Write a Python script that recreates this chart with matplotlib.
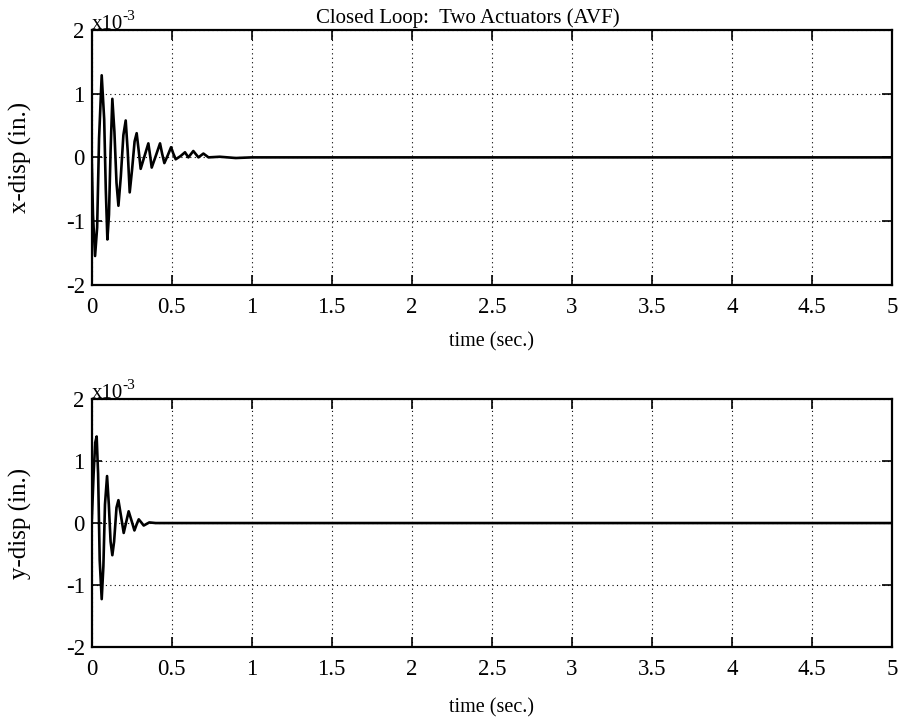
import numpy as np
import matplotlib.pyplot as plt
from matplotlib.ticker import FuncFormatter

# displacement response (inches x 1e-3), read at extrema and crossings
x_time = [0.0, 0.008, 0.021, 0.034, 0.046, 0.0625, 0.078, 0.088, 0.098, 0.108, 0.118,
          0.129, 0.142, 0.155, 0.167, 0.182, 0.198, 0.2125, 0.225, 0.2375, 0.252,
          0.268, 0.281, 0.294, 0.306, 0.330, 0.354, 0.365, 0.375, 0.400, 0.427,
          0.440, 0.454, 0.475, 0.496, 0.510, 0.525, 0.555, 0.583, 0.604, 0.635,
          0.667, 0.698, 0.730, 0.800, 0.900, 1.0, 5.0]
x_disp = [0.0, -0.9, -1.55, -1.1, 0.3, 1.29, 0.6, -0.5, -1.29, -0.9, 0.1,
          0.92, 0.4, -0.4, -0.76, -0.3, 0.35, 0.58, 0.1, -0.55, -0.2,
          0.25, 0.38, 0.1, -0.18, 0.02, 0.22, 0.03, -0.16, 0.02, 0.22,
          0.06, -0.09, 0.03, 0.16, 0.06, -0.03, 0.02, 0.08, 0.0, 0.10,
          0.0, 0.06, 0.0, 0.01, -0.01, 0.0, 0.0]

y_time = [0.0, 0.012, 0.022, 0.031, 0.040, 0.050, 0.0625, 0.073, 0.083, 0.096,
          0.107, 0.118, 0.129, 0.140, 0.155, 0.167, 0.184, 0.200, 0.216, 0.231,
          0.250, 0.267, 0.281, 0.294, 0.310, 0.325, 0.360, 0.400, 5.0]
y_disp = [0.0, 0.8, 1.3, 1.40, 0.8, -0.6, -1.23, -0.7, 0.3, 0.76,
          0.3, -0.3, -0.52, -0.3, 0.25, 0.37, 0.1, -0.16, 0.02, 0.19,
          0.03, -0.12, -0.02, 0.06, 0.01, -0.04, 0.01, 0.0, 0.0]

x_time = np.array(x_time)
x_disp = np.array(x_disp) * 1e-3
y_time = np.array(y_time)
y_disp = np.array(y_disp) * 1e-3

plt.rcParams['font.family'] = ['Liberation Serif', 'DejaVu Serif']
plt.rcParams['axes.unicode_minus'] = False

fig = plt.figure(figsize=(8.99, 7.17), dpi=100)
ax1 = fig.add_axes([0.102, 0.603, 0.890, 0.355])
ax2 = fig.add_axes([0.102, 0.098, 0.890, 0.345])

milli = FuncFormatter(lambda v, pos: '%g' % round(v * 1e3, 6))

for ax, t, d, lab, xpad in [(ax1, x_time, x_disp, 'x-disp (in.)', 10),
                            (ax2, y_time, y_disp, 'y-disp (in.)', 13)]:
    ax.plot(t, d, color='black', lw=1.9, solid_joinstyle='round')
    ax.set_xlim(0, 5)
    ax.set_ylim(-2e-3, 2e-3)
    ax.set_xticks(np.arange(0, 5.01, 0.5))
    ax.set_yticks([-2e-3, -1e-3, 0, 1e-3, 2e-3])
    ax.xaxis.set_major_formatter(FuncFormatter(lambda v, pos: '%g' % v))
    ax.yaxis.set_major_formatter(milli)
    ax.grid(True, color='black', linestyle=(0, (1, 3)), linewidth=0.8)
    ax.tick_params(direction='in', length=7, width=1.2, top=True, right=True,
                   labelsize=16.5, colors='black')
    ax.tick_params(axis='x', pad=9)
    ax.tick_params(axis='y', pad=5)
    for s in ax.spines.values():
        s.set_linewidth(1.6)
    ax.set_xlabel('time (sec.)', fontsize=14.5, labelpad=xpad)
    ax.set_ylabel(lab, fontsize=18, labelpad=24)
    ax.text(0.0, 1.006, 'x10', transform=ax.transAxes, fontsize=15,
            ha='left', va='baseline')
    ax.text(0.038, 1.04, '-3', transform=ax.transAxes, fontsize=11,
            ha='left', va='baseline')

ax1.text(0.47, 1.01, 'Closed Loop:  Two Actuators (AVF)', transform=ax1.transAxes,
         fontsize=15, ha='center', va='bottom')

fig.savefig('out.png', dpi=100)
